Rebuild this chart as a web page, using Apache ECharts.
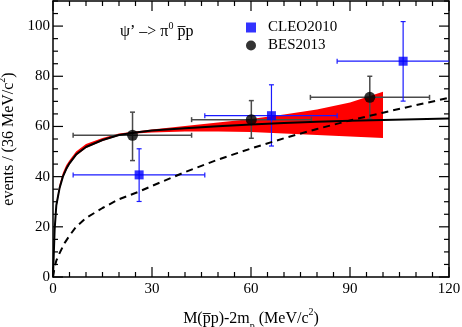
<!DOCTYPE html>
<html>
<head>
<meta charset="utf-8">
<script src="https://cdn.jsdelivr.net/npm/echarts@6/dist/echarts.min.js"></script>
<style>
  html, body { margin: 0; padding: 0; background: #fff; }
  #chart { width: 462px; height: 327px; }
  #err { position: absolute; left: 60px; top: 150px; font: 10px monospace; color: #c00; width: 380px; }
</style>
</head>
<body>
<div id="chart"></div>
<div id="err"></div>
<script>
window.onerror = function (m) { document.getElementById('err').textContent += 'ERR: ' + m + '\n' }

// axis ranges / tick labels
const xMajor = [0, 30, 60, 90, 120]
const yMajor = [0, 20, 40, 60, 80, 100]
const xTicks = [0, 5, 10, 15, 20, 25, 30, 35, 40, 45, 50, 55, 60, 65, 70, 75, 80, 85, 90, 95, 100, 105, 110, 115, 120]
const yTicks = [0, 5, 10, 15, 20, 25, 30, 35, 40, 45, 50, 55, 60, 65, 70, 75, 80, 85, 90, 95, 100, 105, 110]
const X_MAX = 120
const Y_MAX = 110

// solid fit curve
const fitX = [0, 0.5, 1, 2, 3, 4, 5, 7, 10, 15, 20, 25, 30, 40, 50, 60, 70, 80, 90, 100, 110, 120]
const fitY = [0, 19, 28.5, 35.5, 40, 43, 45.3, 48.8, 51.8, 54.6, 56.6, 57.6, 58.4, 59.3, 60.1, 60.8, 61.4, 61.9, 62.3, 62.6, 62.9, 63.2]

// red error band
const bandX = [0, 0.5, 1, 2, 3, 4, 5, 7, 10, 15, 20, 25, 30, 40, 50, 60, 70, 80, 90, 100]
const bandHigh = [0, 20, 29.5, 37, 41.5, 44.5, 46.5, 50, 53, 55.4, 57.2, 58.0, 58.8, 60.2, 61.6, 63.0, 64.8, 66.8, 69.5, 73.8]
const bandLow = [0, 18, 27.5, 34.5, 39.5, 42.3, 44.8, 48.3, 51.4, 54.2, 56.3, 57.2, 57.6, 58.0, 58.0, 57.8, 57.2, 56.6, 56.0, 55.4]

// dashed curve
const dashX = [0, 0.5, 1, 2, 3.5, 5, 7, 10, 15, 20, 26, 30, 40, 50, 60, 70, 80, 90, 100, 110, 120]
const dashY = [0, 4, 6.5, 9.5, 13.5, 16.5, 20, 23.5, 27.5, 31, 34, 36.3, 41.8, 46.8, 51.2, 55.3, 59, 62.4, 65.5, 68.5, 71.4]

// BES2013 points
const besX = [24.1, 60.1, 96.0]
const besY = [56.5, 62.7, 71.6]
const besXLo = [6.1, 42.0, 78.0]
const besXHi = [42.0, 78.3, 114.1]
const besYLo = [46.4, 55.3, 62.9]
const besYHi = [65.7, 70.3, 80.0]

// CLEO2010 points
const cleoX = [26.1, 66.2, 106.1]
const cleoY = [40.7, 64.3, 86.0]
const cleoXLo = [6.1, 46.0, 86.1]
const cleoXHi = [46.0, 86.1, 126]
const cleoYLo = [30.1, 52.2, 70.1]
const cleoYHi = [51.1, 76.6, 101.8]

const FONT = 'Liberation Serif'
const zip = (xs, ys) => xs.map((x, i) => [x, ys[i]])

function errData(xs, ys, xl, xh, yl, yh) {
  return xs.map((x, i) => [x, ys[i], xl[i], xh[i], yl[i], yh[i]])
}

function errorBar(color, lw) {
  return function (params, api) {
    const x = api.value(0), y = api.value(1)
    const xl = api.value(2), xh = api.value(3)
    const yl = api.value(4), yh = api.value(5)
    const l = api.coord([xl, y])
    const r = api.coord([Math.min(xh, X_MAX), y])
    const t = api.coord([x, yh])
    const b = api.coord([x, yl])
    const cap = 2.5
    const st = { stroke: color, lineWidth: lw }
    const kids = [
      { type: 'line', shape: { x1: l[0], y1: l[1], x2: r[0], y2: r[1] }, style: st },
      { type: 'line', shape: { x1: t[0], y1: t[1], x2: b[0], y2: b[1] }, style: st },
      { type: 'line', shape: { x1: l[0], y1: l[1] - cap, x2: l[0], y2: l[1] + cap }, style: st },
      { type: 'line', shape: { x1: t[0] - cap, y1: t[1], x2: t[0] + cap, y2: t[1] }, style: st },
      { type: 'line', shape: { x1: b[0] - cap, y1: b[1], x2: b[0] + cap, y2: b[1] }, style: st }
    ]
    if (xh <= X_MAX) {
      kids.push({ type: 'line', shape: { x1: r[0], y1: r[1] - cap, x2: r[0], y2: r[1] + cap }, style: st })
    }
    return { type: 'group', children: kids }
  }
}

function renderBand(params, api) {
  const pts = []
  for (let i = 0; i < bandX.length; i++) pts.push(api.coord([bandX[i], bandHigh[i]]))
  for (let i = bandX.length - 1; i >= 0; i--) pts.push(api.coord([bandX[i], bandLow[i]]))
  return { type: 'polygon', shape: { points: pts }, style: { fill: '#ff0000' } }
}

function rich() {
  return {
    a: { fontFamily: FONT, fontSize: 16, fontWeight: 'normal', color: '#000', lineHeight: 22 },
    sup: { fontFamily: FONT, fontSize: 10, fontWeight: 'normal', color: '#000', verticalAlign: 'top', lineHeight: 22 },
    sub: { fontFamily: FONT, fontSize: 10, fontWeight: 'normal', color: '#000', verticalAlign: 'bottom', lineHeight: 24 }
  }
}

function xAxis(pos, labels) {
  const ax = {
    type: 'value', position: pos, min: 0, max: X_MAX,
    axisLine: { show: true, onZero: false, lineStyle: { color: '#000', width: 1.5 } },
    axisTick: { show: false },
    axisLabel: { show: labels, margin: 5, customValues: xMajor, fontFamily: FONT, fontSize: 15, color: '#000' },
    splitLine: { show: false }
  }
  if (labels) {
    ax.name = '{a|M(p\u0305p)-2m}{sub|p}{a| (MeV/c}{sup|2}{a|)}'
    ax.nameLocation = 'middle'
    ax.nameGap = 30
    ax.nameTextStyle = { rich: rich() }
  }
  return ax
}

function yAxis(pos, labels) {
  const ax = {
    type: 'value', position: pos, min: 0, max: Y_MAX,
    axisLine: { show: true, onZero: false, lineStyle: { color: '#000', width: 1.5 } },
    axisTick: { show: false },
    axisLabel: { show: labels, margin: 3, customValues: yMajor, fontFamily: FONT, fontSize: 15, color: '#000' },
    splitLine: { show: false }
  }
  if (labels) {
    ax.name = '{a|events / (36 MeV/c}{sup|2}{a|)}'
    ax.nameLocation = 'middle'
    ax.nameGap = 28
    ax.nameTextStyle = { rich: rich() }
  }
  return ax
}

const chart = echarts.init(document.getElementById('chart'))
chart.setOption({
  animation: false,
  grid: { left: 53, right: 13, top: 1, bottom: 50, outerBoundsMode: 'none' },
  title: {
    text: '{a|\u03c8\u2019 \u2013> \u03c0}{sup|0}{a| p\u0305p}',
    left: 120, top: 21, padding: 0,
    textStyle: { fontWeight: 'normal', rich: rich() }
  },
  legend: {
    orient: 'vertical', left: 246, top: 20, padding: 0,
    itemWidth: 10, itemHeight: 10, itemGap: 3,
    textStyle: { fontFamily: FONT, fontSize: 15, color: '#000', padding: [0, 0, 0, 7] },
    data: ['CLEO2010', 'BES2013']
  },
  xAxis: [xAxis('bottom', true), xAxis('top', false)],
  yAxis: [yAxis('left', true), yAxis('right', false)],
  series: [
    { type: 'custom', renderItem: renderBand, data: [[0, 0]], silent: true },
    {
      type: 'line', data: zip(fitX, fitY), symbol: 'none',
      lineStyle: { color: '#000', width: 2 }
    },
    {
      type: 'line', data: zip(dashX, dashY), symbol: 'none',
      lineStyle: { color: '#000', width: 2, type: [7, 5] }
    },
    {
      type: 'custom', renderItem: errorBar('#4a4a4a', 1.5),
      data: errData(besX, besY, besXLo, besXHi, besYLo, besYHi)
    },
    {
      type: 'custom', renderItem: errorBar('#1a1aff', 1.2),
      data: errData(cleoX, cleoY, cleoXLo, cleoXHi, cleoYLo, cleoYHi)
    },
    {
      name: 'CLEO2010', type: 'scatter', data: zip(cleoX, cleoY),
      symbol: 'rect', symbolSize: 9, itemStyle: { color: '#0000ff' }
    },
    {
      name: 'BES2013', type: 'scatter', data: zip(besX, besY),
      symbol: 'circle', symbolSize: 11, itemStyle: { color: '#000' }
    }
  ]
})

// inward frame ticks, positioned with the chart's own axis scales
const tickLines = []
const ln = (x1, y1, x2, y2) => tickLines.push({
  type: 'line', silent: true, z: 100,
  shape: { x1: x1, y1: y1, x2: x2, y2: y2 },
  style: { stroke: '#000', lineWidth: 1.2 }
})
xTicks.forEach(v => {
  const len = xMajor.includes(v) ? 10 : 5
  const b = chart.convertToPixel({ xAxisIndex: 0, yAxisIndex: 0 }, [v, 0])
  const t = chart.convertToPixel({ xAxisIndex: 0, yAxisIndex: 0 }, [v, Y_MAX])
  ln(b[0], b[1], b[0], b[1] - len)
  ln(t[0], t[1], t[0], t[1] + len)
})
yTicks.forEach(v => {
  const len = yMajor.includes(v) ? 10 : 5
  const l = chart.convertToPixel({ xAxisIndex: 0, yAxisIndex: 0 }, [0, v])
  const r = chart.convertToPixel({ xAxisIndex: 0, yAxisIndex: 0 }, [X_MAX, v])
  ln(l[0], l[1], l[0] + len, l[1])
  ln(r[0], r[1], r[0] - len, r[1])
})
chart.setOption({ graphic: tickLines })
</script>
</body>
</html>
